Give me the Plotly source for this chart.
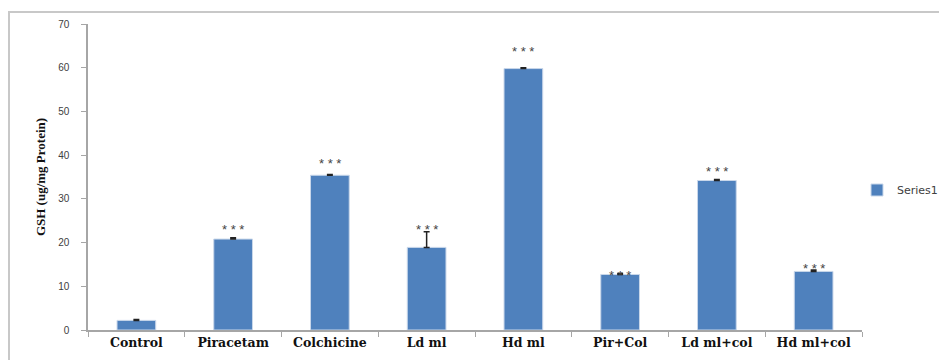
import plotly.graph_objects as go

categories = ["Control", "Piracetam", "Colchicine", "Ld ml", "Hd ml", "Pir+Col", "Ld ml+col", "Hd ml+col"]
gsh = [2.2, 20.8, 35.4, 18.9, 59.8, 12.7, 34.2, 13.4]
gsh_err = [0.2, 0.3, 0.2, 3.6, 0.2, 0.2, 0.2, 0.3]
star_y = [None, 23.6, 38.7, 23.6, 64.5, 13.2, 36.9, 14.8]
star_text = ["", "* * *", "* * *", "* * *", "* * *", "* * *", "* * *", "* * *"]
y_ticks = [0, 10, 20, 30, 40, 50, 60, 70]

# page has an 8px body margin; figure coords = page coords - 8
OFF = 8
L, T, PW, PH = 88 - OFF, 24 - OFF, 774, 306
W, H = 947 - OFF, 360 - OFF

fig = go.Figure()
fig.add_trace(go.Bar(
    x=categories, y=gsh, name="Series1",
    marker=dict(color="#4F81BD", line=dict(color="#C9D7EA", width=1)),
    width=0.4,
    error_y=dict(type="data", array=gsh_err, arrayminus=[0] * len(gsh_err), symmetric=False,
                 visible=True, color="#222222", thickness=1.5, width=3),
))

for c, yv, t in zip(categories, star_y, star_text):
    if yv is None or not t:
        continue
    fig.add_annotation(x=c, y=yv, text=t, showarrow=False,
                       font=dict(family="Liberation Sans", size=13, color="#444444"),
                       yanchor="middle", yshift=-3)

# outer chart frame (page x=7 -> clipped to figure x=1, top page y=12)
fig.add_shape(type="rect", xref="paper", yref="paper",
              x0=(1 - L) / PW, x1=1.2, y0=-0.5, y1=(PH + T - (12 - OFF)) / PH,
              line=dict(color="#C8C8C8", width=2), layer="below")

fig.update_layout(
    width=W, height=H,
    margin=dict(l=L, r=W - L - PW, t=T, b=H - T - PH, autoexpand=False),
    paper_bgcolor="white", plot_bgcolor="white",
    showlegend=True,
    legend=dict(x=(857 - OFF - L) / PW, y=(PH + T - (190 - OFF)) / PH, xanchor="left", yanchor="middle",
                font=dict(family="DejaVu Sans", size=11, color="#404040"),
                itemwidth=30, bgcolor="rgba(0,0,0,0)"),
)
fig.update_xaxes(
    showline=True, linecolor="#A6A6A6", linewidth=1.5,
    ticks="outside", ticklen=5, tickcolor="#A6A6A6", tickson="boundaries",
    showgrid=False, automargin=False,
    tickfont=dict(family="DejaVu Serif", size=12.5, color="#111111", weight="bold"),
)
fig.update_yaxes(
    range=[0, 70], tickvals=y_ticks, showgrid=False, automargin=False,
    showline=True, linecolor="#A6A6A6", linewidth=1.5,
    ticks="outside", ticklen=5, tickcolor="#A6A6A6",
    tickfont=dict(family="Liberation Sans", size=10, color="#404040"),
    ticklabelstandoff=10,
    title=dict(text="GSH (ug/mg Protein)", standoff=10,
               font=dict(family="Liberation Serif", size=13, color="#111111", weight="bold")),
    zeroline=False,
)

fig.write_html("out.html")
